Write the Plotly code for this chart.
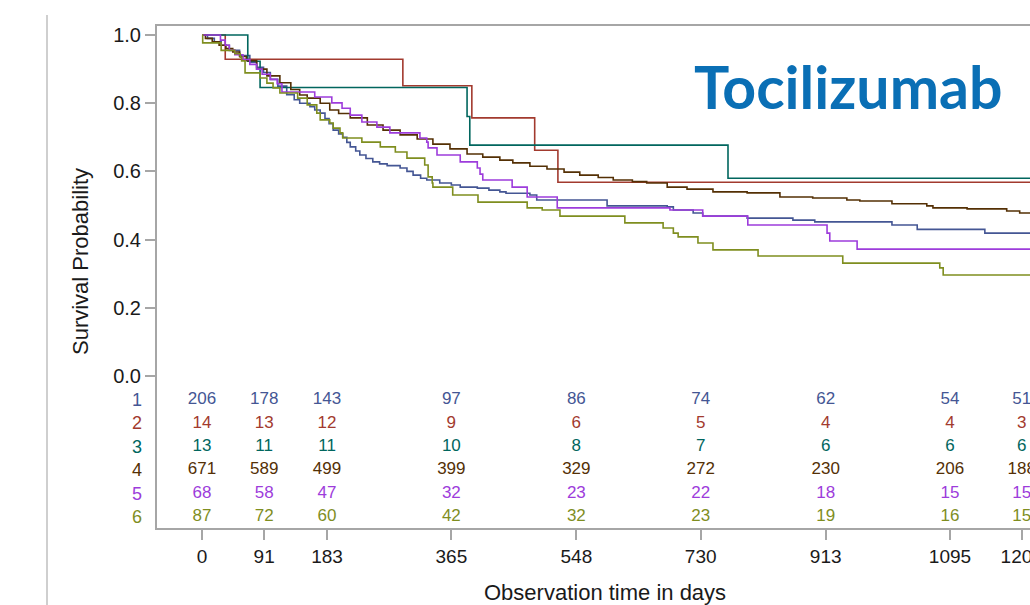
import plotly.graph_objects as go

# ---------------- data ----------------
groups = ["1", "2", "3", "4", "5", "6"]
colors = ["#445694", "#A23A2E", "#01665E", "#543005", "#9D3CDB", "#7F8E1F"]

days_1 = [0, 8, 18, 28, 40, 55, 70, 80, 90, 100, 111, 124, 135, 143, 158, 165, 173, 180, 186, 192, 200, 206,
          212, 217, 225, 231, 240, 250, 260, 271, 290, 300, 309, 320, 329, 348, 365, 378, 403, 420, 436, 445,
          480, 490, 593, 681, 690, 719, 733, 798, 865, 897, 1010, 1047, 1146, 1230]
surv_1 = [1.0, 0.99, 0.98, 0.97, 0.955, 0.94, 0.92, 0.905, 0.89, 0.87, 0.85, 0.825, 0.81, 0.80, 0.79, 0.78, 0.771,
          0.755, 0.74, 0.721, 0.71, 0.70, 0.685, 0.672, 0.66, 0.648, 0.638, 0.628, 0.622, 0.617, 0.610, 0.60, 0.589,
          0.58, 0.575, 0.566, 0.56, 0.554, 0.551, 0.545, 0.540, 0.536, 0.531, 0.516, 0.499, 0.496, 0.487, 0.478,
          0.469, 0.463, 0.457, 0.452, 0.443, 0.43, 0.419, 0.419]

days_2 = [0, 34, 294, 395, 487, 521, 1230]
surv_2 = [1.0, 0.929, 0.851, 0.757, 0.662, 0.568, 0.568]

days_3 = [0, 67, 85, 388, 392, 770, 1230]
surv_3 = [1.0, 0.923, 0.846, 0.761, 0.677, 0.580, 0.580]

days_4 = [0, 5, 15, 25, 35, 45, 55, 65, 80, 95, 114, 130, 143, 154, 173, 187, 200, 217, 242, 265, 290, 315, 338,
          363, 388, 411, 436, 455, 480, 505, 530, 553, 580, 602, 630, 651, 681, 710, 748, 798, 846, 894, 944, 963,
          1010, 1061, 1070, 1120, 1178, 1197, 1230]
surv_4 = [1.0, 0.99, 0.98, 0.97, 0.96, 0.95, 0.937, 0.925, 0.90, 0.88, 0.86, 0.84, 0.824, 0.815, 0.80, 0.78, 0.77,
          0.757, 0.736, 0.721, 0.707, 0.695, 0.680, 0.666, 0.651, 0.642, 0.633, 0.625, 0.615, 0.607, 0.598, 0.589,
          0.582, 0.575, 0.570, 0.566, 0.554, 0.548, 0.540, 0.537, 0.525, 0.522, 0.516, 0.513, 0.505, 0.499, 0.493,
          0.490, 0.484, 0.478, 0.478]

days_5 = [0, 27, 34, 40, 48, 60, 70, 80, 88, 100, 110, 117, 165, 190, 205, 217, 234, 256, 275, 319, 329, 331, 344,
          378, 403, 407, 411, 454, 476, 520, 685, 733, 799, 915, 919, 959, 1230]
surv_5 = [1.0, 0.985, 0.97, 0.956, 0.942, 0.928, 0.914, 0.90, 0.885, 0.87, 0.857, 0.833, 0.818, 0.801, 0.785, 0.765,
          0.745, 0.730, 0.713, 0.698, 0.686, 0.669, 0.648, 0.628, 0.610, 0.592, 0.575, 0.554, 0.525, 0.493, 0.487,
          0.469, 0.443, 0.419, 0.396, 0.372, 0.372]

days_6 = [0, 1, 28, 48, 56, 58, 63, 85, 95, 104, 114, 140, 154, 168, 173, 187, 192, 202, 206, 234, 261, 283, 300,
          326, 331, 337, 338, 367, 404, 476, 498, 524, 619, 675, 690, 697, 726, 748, 814, 938, 1080, 1085, 1230]
surv_6 = [1.0, 0.977, 0.955, 0.945, 0.935, 0.924, 0.889, 0.874, 0.859, 0.845, 0.830, 0.815, 0.795, 0.771, 0.751,
          0.742, 0.727, 0.713, 0.698, 0.686, 0.672, 0.657, 0.639, 0.619, 0.584, 0.566, 0.554, 0.531, 0.510, 0.493,
          0.487, 0.469, 0.449, 0.434, 0.419, 0.408, 0.390, 0.370, 0.352, 0.331, 0.317, 0.296, 0.296]

all_days = [days_1, days_2, days_3, days_4, days_5, days_6]
all_surv = [surv_1, surv_2, surv_3, surv_4, surv_5, surv_6]

risk_times = [0, 91, 183, 365, 548, 730, 913, 1095, 1200]
risk_1 = [206, 178, 143, 97, 86, 74, 62, 54, 51]
risk_2 = [14, 13, 12, 9, 6, 5, 4, 4, 3]
risk_3 = [13, 11, 11, 10, 8, 7, 6, 6, 6]
risk_4 = [671, 589, 499, 399, 329, 272, 230, 206, 188]
risk_5 = [68, 58, 47, 32, 23, 22, 18, 15, 15]
risk_6 = [87, 72, 60, 42, 32, 23, 19, 16, 15]
all_risk = [risk_1, risk_2, risk_3, risk_4, risk_5, risk_6]

y_ticks = [0.0, 0.2, 0.4, 0.6, 0.8, 1.0]

# ---------------- figure ----------------
W, H = 1030, 605
ML, MR, MT, MB = 157, 0, 26, 77
PW, PH = W - ML - MR, H - MT - MB


def px(xp):
    return (xp - ML) / PW


def py(yp):
    return (H - MB - yp) / PH


fig = go.Figure()

for g, c, d, s in zip(groups, colors, all_days, all_surv):
    fig.add_trace(go.Scatter(x=d, y=s, mode="lines", line=dict(color=c, width=1.6, shape="hv"),
                             name=g, showlegend=False, hoverinfo="skip"))

for i, (g, c, r) in enumerate(zip(groups, colors, all_risk)):
    fig.add_trace(go.Scatter(x=risk_times, y=[i + 1] * len(r), text=[str(v) for v in r], mode="text",
                             textfont=dict(color=c, size=17, family="Liberation Sans, Arial"),
                             textposition="middle center", yaxis="y2", showlegend=False,
                             hoverinfo="skip", cliponaxis=False))
    fig.add_annotation(x=px(137), xref="paper", y=i + 1, yref="y2", text=g, showarrow=False,
                       xanchor="center", yanchor="middle",
                       font=dict(color=c, size=18, family="Liberation Sans, Arial"))

frame_col = "#a6a6a6"

fig.update_layout(
    width=W, height=H,
    margin=dict(l=ML, r=MR, t=MT, b=MB, pad=0, autoexpand=False),
    paper_bgcolor="white", plot_bgcolor="white",
    xaxis=dict(range=[-65.9, 1212.1], tickvals=risk_times, ticktext=[str(t) for t in risk_times],
               showgrid=False, zeroline=False, showline=True, linecolor=frame_col, linewidth=2,
               mirror=True, ticks="outside", ticklen=10, tickwidth=1.5, tickcolor=frame_col,
               tickfont=dict(family="Liberation Sans, Arial", size=19, color="#1a1a1a"),
               ticklabelstandoff=0, ticklabeloverflow="allow", automargin=False),
    yaxis=dict(range=[-0.4457, 1.0264], tickvals=y_ticks, ticktext=[f"{v:.1f}" for v in y_ticks],
               showgrid=False, zeroline=False, showline=True, linecolor=frame_col, linewidth=2,
               mirror=False, ticks="outside", ticklen=10, tickwidth=1.5, tickcolor=frame_col,
               tickfont=dict(family="Liberation Sans, Arial", size=20, color="#1a1a1a"), automargin=False),
    yaxis2=dict(range=[6.47, -14.98], overlaying="y", visible=False, showgrid=False, zeroline=False,
                automargin=False),
    font=dict(family="Liberation Sans, Arial"),
)

# axis titles
fig.add_annotation(x=px(605), y=py(592), xref="paper", yref="paper", text="Observation time in days",
                   showarrow=False, xanchor="center", yanchor="middle",
                   font=dict(family="Liberation Sans, Arial", size=22, color="#1a1a1a"))
fig.add_annotation(x=px(80), y=py(262), xref="paper", yref="paper", text="Survival Probability",
                   showarrow=False, textangle=-90, xanchor="center", yanchor="middle",
                   font=dict(family="Liberation Sans, Arial", size=22, color="#1a1a1a"))

# slide title
fig.add_annotation(x=px(848), y=py(86), xref="paper", yref="paper", text="<b>Tocilizumab</b>",
                   showarrow=False, xanchor="center", yanchor="middle",
                   font=dict(family="Lato", size=59, color="#0A6FB5"))

# slide edge line
fig.add_shape(type="line", xref="paper", yref="paper", x0=px(47), x1=px(47), y0=py(605), y1=py(15),
              line=dict(color="#cfcfcf", width=2))

fig.write_html("out.html", config={"displayModeBar": False},
               post_script="document.body.style.margin='0';document.body.style.overflow='hidden';")
